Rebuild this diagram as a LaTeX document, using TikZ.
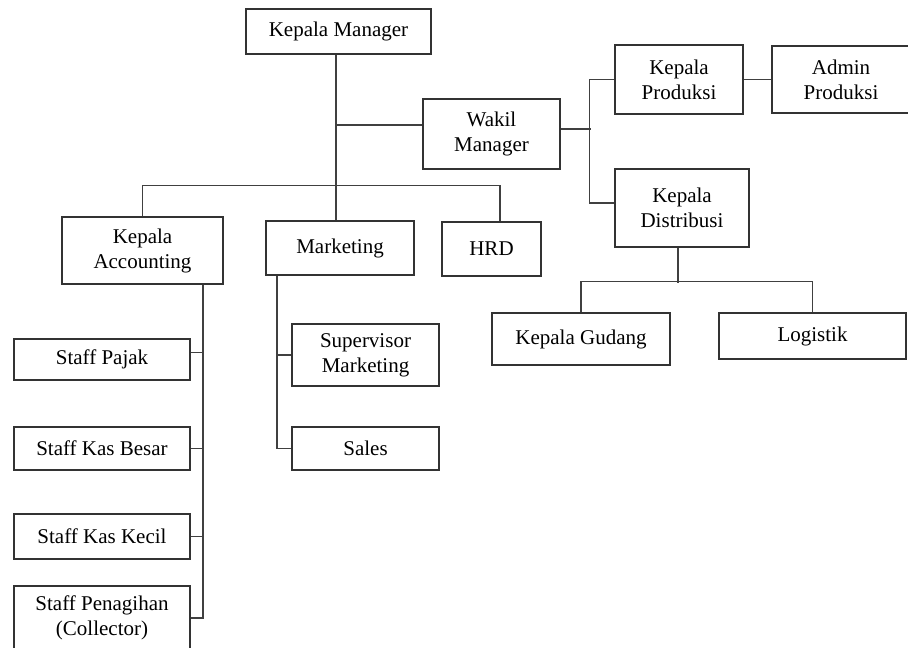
\documentclass[tikz,border=0pt]{standalone}
\usepackage{fontspec}
\setmainfont{Liberation Serif}
\usetikzlibrary{positioning}

\begin{document}
\begin{tikzpicture}
				[x=1pt, y=-1pt, every node/.style={draw=black!80, line width=1.2pt, inner sep=0pt, align=center, font=\fontsize{21}{25}\selectfont}, link/.style={draw=black!75, line width=1.2pt}]
				\useasboundingbox (0,0) rectangle (908,648);
				\node (mgr) [minimum width=185pt, minimum height=45pt] at (338.5,31.5) {Kepala Manager};\node (wakil) [minimum width=137pt, minimum height=70pt] at (491.5,134) {Wakil\\Manager};\node (prod) [minimum width=128pt, minimum height=69pt] at (679,79.5) {Kepala\\Produksi};\node (admin) [minimum width=138pt, minimum height=67pt] at (841,79.5) {Admin\\Produksi};\node (dist) [minimum width=134pt, minimum height=78pt] at (682,208) {Kepala\\Distribusi};\node (gudang) [minimum width=178pt, minimum height=52pt] at (581,339) {Kepala Gudang};\node (logistik) [minimum width=187pt, minimum height=46pt] at (812.5,336) {Logistik};
				\node (acc) [minimum width=161pt, minimum height=67pt] at (142.5,250.5) {Kepala\\Accounting};\node (mkt) [minimum width=148pt, minimum height=54pt] at (340,248) {Marketing};\node (hrd) [minimum width=99pt, minimum height=54pt] at (491.5,249) {HRD};
				\node (pajak) [minimum width=176pt, minimum height=41pt] at (102,359.5) {Staff Pajak};\node (besar) [minimum width=176pt, minimum height=43pt] at (102,448.5) {Staff Kas Besar};\node (kecil) [minimum width=176pt, minimum height=45pt] at (102,536.5) {Staff Kas Kecil};\node (pen) [minimum width=176pt, minimum height=64pt] at (102,618) {Staff Penagihan\\(Collector)};
				\node (sup) [minimum width=147pt, minimum height=62pt] at (365.5,355) {Supervisor\\Marketing};\node (sales) [minimum width=147pt, minimum height=43pt] at (365.5,448.5) {Sales};
				
				\draw[link] ([xshift=-2.5pt]mgr.south) -- ([xshift=-4pt]mkt.north);
				\draw[link] ([xshift=-87pt, yshift=9pt]wakil.west) -- ([yshift=9pt]wakil.west);
				\draw[link] (acc.north) -- ++(0,-31) -| ([xshift=8.5pt]hrd.north);
				\draw[link] ([yshift=5pt]wakil.east) -- ++(30,0);
				\draw[link] (prod.west) -- ++(-25,0) |- ([yshift=5pt]dist.west);
				\draw[link] (prod.east) -- (prod.east -| admin.west);
				\draw[link] ([xshift=-4pt]dist.south) -- ++(0,35);
				\draw[link] (gudang.north) -- ++(0,-31) -| (logistik.north);
				\draw[link] ([xshift=60.5pt]acc.south) |- (pen.east);
				\draw[link] ([yshift=7pt]pajak.east) -- ++(13,0);
				\draw[link] (besar.east) -- ++(13,0);
				\draw[link] (kecil.east) -- ++(13,0);
				\draw[link] ([xshift=-63pt]mkt.south) |- (sales.west);
				\draw[link] (sup.west) -- ++(-15,0);
			\end{tikzpicture}
\end{document}
